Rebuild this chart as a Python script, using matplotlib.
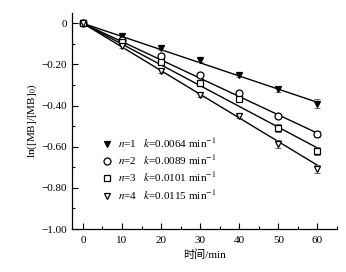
import matplotlib
matplotlib.use("Agg")
import matplotlib.pyplot as plt
import numpy as np

plt.rcParams['font.family'] = ['Liberation Serif', 'Noto Sans CJK SC']
plt.rcParams['mathtext.fontset'] = 'stix'

t = [0, 10, 20, 30, 40, 50, 60]
y1 = [0, -0.06, -0.12, -0.18, -0.25, -0.32, -0.39]
y2 = [0, -0.08, -0.16, -0.25, -0.34, -0.45, -0.54]
y3 = [0, -0.09, -0.19, -0.29, -0.37, -0.51, -0.62]
y4 = [0, -0.11, -0.23, -0.35, -0.45, -0.585, -0.71]
e1 = [0, 0.01, 0.01, 0.01, 0.01, 0.015, 0.02]
e2 = [0, 0.01, 0.01, 0.01, 0.01, 0.01, 0.015]
e3 = [0, 0.01, 0.01, 0.01, 0.01, 0.02, 0.02]
e4 = [0, 0.01, 0.01, 0.01, 0.01, 0.02, 0.02]
ks = [0.0064, 0.0089, 0.0101, 0.0115]
ns = [1, 2, 3, 4]
markers = ['v', 'o', 's', 'v']
fills = ['black', 'white', 'white', 'white']

fig = plt.figure(figsize=(3.46, 2.72), dpi=100)
ax = fig.add_axes([0.208, 0.158, 0.766, 0.794])

handles = []
for y, e, k, m, fc in zip([y1, y2, y3, y4], [e1, e2, e3, e4], ks, markers, fills):
    tt = np.array([0, 60])
    ax.plot(tt, -k * tt, color='black', lw=1.0, zorder=2)
    ax.errorbar(t, y, yerr=e, fmt='none', ecolor='#555555', elinewidth=0.6, capsize=2, capthick=0.6, zorder=3)
    h, = ax.plot(t, y, linestyle='none', marker=m, markersize=5, markerfacecolor=fc,
                 markeredgecolor='black', markeredgewidth=0.9, zorder=4)
    handles.append(h)

labels = [f'$n$={n}   $k$={k:.4f} min$^{{-1}}$' for n, k in zip(ns, ks)]
ax.legend(handles, labels, loc='lower left', bbox_to_anchor=(0.07, 0.08), frameon=False,
          fontsize=8, handletextpad=0.4, labelspacing=0.32, handlelength=1.2)

ax.set_xlim(-2.8, 65)
ax.set_ylim(-1.0, 0.05)
ax.set_xticks([0, 10, 20, 30, 40, 50, 60])
ax.set_xticks([5, 15, 25, 35, 45, 55, 65], minor=True)
ax.set_yticks([0, -0.2, -0.4, -0.6, -0.8, -1.0])
ax.set_yticklabels(['0', '\u22120.20', '\u22120.40', '\u22120.60', '\u22120.80', '\u22121.00'])
ax.set_yticks([-0.1, -0.3, -0.5, -0.7, -0.9], minor=True)
ax.tick_params(direction='in', labelsize=8, length=4, width=0.8)
ax.tick_params(axis='x', pad=5)
ax.tick_params(which='minor', direction='in', length=2, width=0.8)
ax.spines['top'].set_visible(False)
ax.spines['right'].set_visible(False)
for s in ['left', 'bottom']:
    ax.spines[s].set_linewidth(0.9)
ax.set_xlabel('时间/min', fontsize=8, labelpad=3)
ax.set_ylabel('ln([MB]/[MB]$_0$)', fontsize=8, labelpad=2)

fig.savefig('out.png', dpi=100)
